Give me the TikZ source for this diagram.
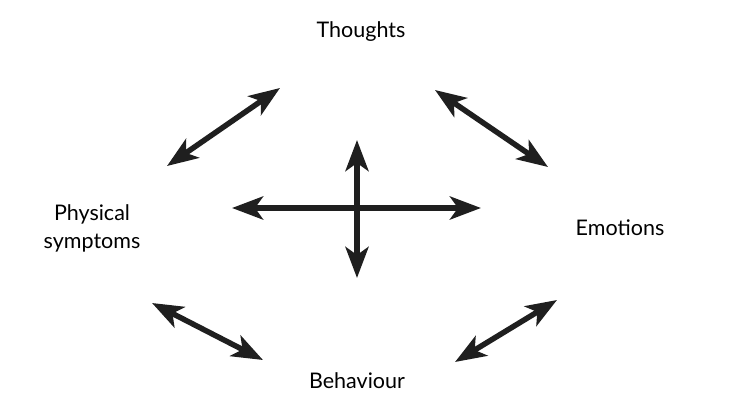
\documentclass[tikz,border=0pt]{standalone}
\usepackage{fontspec}
\setmainfont{Lato}
\usetikzlibrary{arrows.meta,positioning}

\begin{document}
\begin{tikzpicture}[
    x=1pt, y=-1pt,
    label/.style={font=\fontsize{21.5}{28}\selectfont, align=center, inner sep=0pt},
    twoway/.style={{Stealth[length=31pt, width=23pt, inset=8pt]}-{Stealth[length=31pt, width=23pt, inset=8pt]},
                   line width=5.5pt, draw=black!88}
  ]
    \useasboundingbox (0,0) rectangle (740,418);

    \node[label] (thoughts) at (361,32) {Thoughts};
    \node[label] (emotions) at (620,228) {Emotions};
    \node[label] (behaviour) at (357,381) {Behaviour};
    \node[label] (physical) at (92,228) {Physical\\symptoms};

    % arrow ends
    \coordinate (tl1) at (167,166);  \coordinate (tl2) at (280,88);
    \coordinate (tr1) at (435,90);   \coordinate (tr2) at (548,167);
    \coordinate (bl1) at (152,303);  \coordinate (bl2) at (263,360);
    \coordinate (br1) at (455,362);  \coordinate (br2) at (557,300);
    \coordinate (hl) at (232,208);   \coordinate (hr) at (481,208);
    \coordinate (vt) at (357,140);   \coordinate (vb) at (357,278);

    \foreach \a/\b in {tl1/tl2, tr1/tr2, bl1/bl2, br1/br2, hl/hr, vt/vb}
      \draw[twoway] (\a) -- (\b);
  \end{tikzpicture}
\end{document}
